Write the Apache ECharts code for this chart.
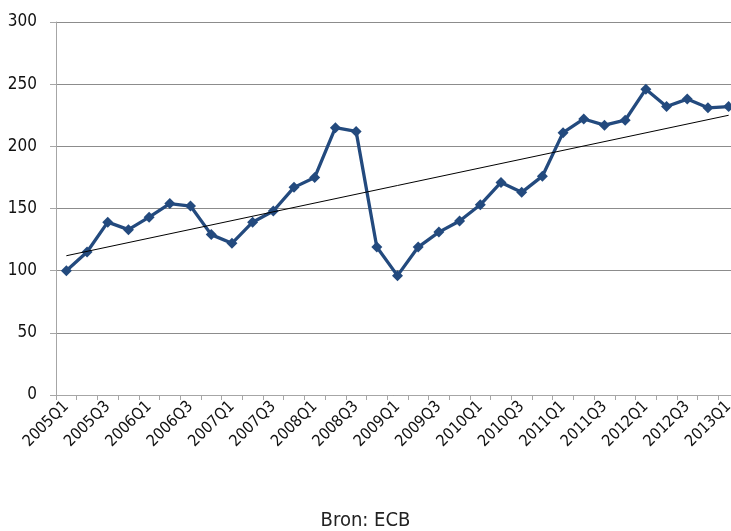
<!DOCTYPE html>
<html>
<head>
<meta charset="utf-8">
<script src="https://cdn.jsdelivr.net/npm/echarts@6/dist/echarts.min.js"></script>
<style>
  html, body { margin: 0; padding: 0; background: #fff; }
  #chart { width: 731px; height: 531px; }
</style>
</head>
<body>
<div id="chart"></div>
<script>
// Quarterly index, 2005Q1 = 100
const quarters = [
  '2005Q1','2005Q2','2005Q3','2005Q4',
  '2006Q1','2006Q2','2006Q3','2006Q4',
  '2007Q1','2007Q2','2007Q3','2007Q4',
  '2008Q1','2008Q2','2008Q3','2008Q4',
  '2009Q1','2009Q2','2009Q3','2009Q4',
  '2010Q1','2010Q2','2010Q3','2010Q4',
  '2011Q1','2011Q2','2011Q3','2011Q4',
  '2012Q1','2012Q2','2012Q3','2012Q4',
  '2013Q1'
];
const indexValues = [
  100, 115, 139, 133,
  143, 154, 152, 129,
  122, 139, 148, 167,
  175, 215, 212, 119,
  96, 119, 131, 140,
  153, 171, 163, 176,
  211, 222, 217, 221,
  246, 232, 238, 231,
  232
];
// Linear trend line: start and end levels
const trendStart = 112;
const trendEnd = 225;
const yTicks = { min: 0, max: 300, interval: 50 };
const sourceText = 'Bron: ECB';

const font = '"DejaVu Sans Condensed", "Liberation Sans Narrow", "Arial Narrow", "Liberation Sans", Arial, sans-serif';

const chart = echarts.init(document.getElementById('chart'), null, { renderer: 'canvas' });
chart.setOption({
  animation: false,
  backgroundColor: '#ffffff',
  // the plot runs slightly past the right edge of the page
  grid: { left: 56, top: 22, width: 683, height: 373, containLabel: false, outerBoundsMode: 'none' },
  title: {
    text: sourceText,
    left: 'center',
    bottom: -5,
    textStyle: { fontFamily: font, fontSize: 20, fontWeight: 'normal', color: '#222' }
  },
  xAxis: {
    type: 'category',
    data: quarters,
    boundaryGap: true,
    axisLine: { lineStyle: { color: '#a6a6a6', width: 1 } },
    axisTick: { show: true, alignWithLabel: false, interval: 0, length: 5, lineStyle: { color: '#a6a6a6' } },
    axisLabel: {
      interval: 1,
      rotate: 45,
      margin: 9,
      fontFamily: font,
      fontSize: 16,
      color: '#111'
    },
    splitLine: { show: false }
  },
  yAxis: {
    type: 'value',
    min: yTicks.min,
    max: yTicks.max,
    interval: yTicks.interval,
    axisLine: { show: true, lineStyle: { color: '#a6a6a6', width: 1 } },
    axisTick: { show: true, length: 6, lineStyle: { color: '#a6a6a6' } },
    axisLabel: { margin: 19, fontFamily: font, fontSize: 17, color: '#111' },
    splitLine: { show: true, lineStyle: { color: '#8c8c8c', width: 1 } }
  },
  series: [
    {
      name: 'Index',
      type: 'line',
      data: indexValues,
      symbol: 'diamond',
      symbolSize: 11,
      showAllSymbol: true,
      lineStyle: { color: '#234a7e', width: 3.3 },
      itemStyle: { color: '#234a7e' },
      z: 3
    },
    {
      name: 'Trend',
      type: 'line',
      data: [[0, trendStart], [quarters.length - 1, trendEnd]],
      symbol: 'none',
      lineStyle: { color: '#000', width: 1 },
      z: 4
    }
  ]
});
</script>
</body>
</html>
